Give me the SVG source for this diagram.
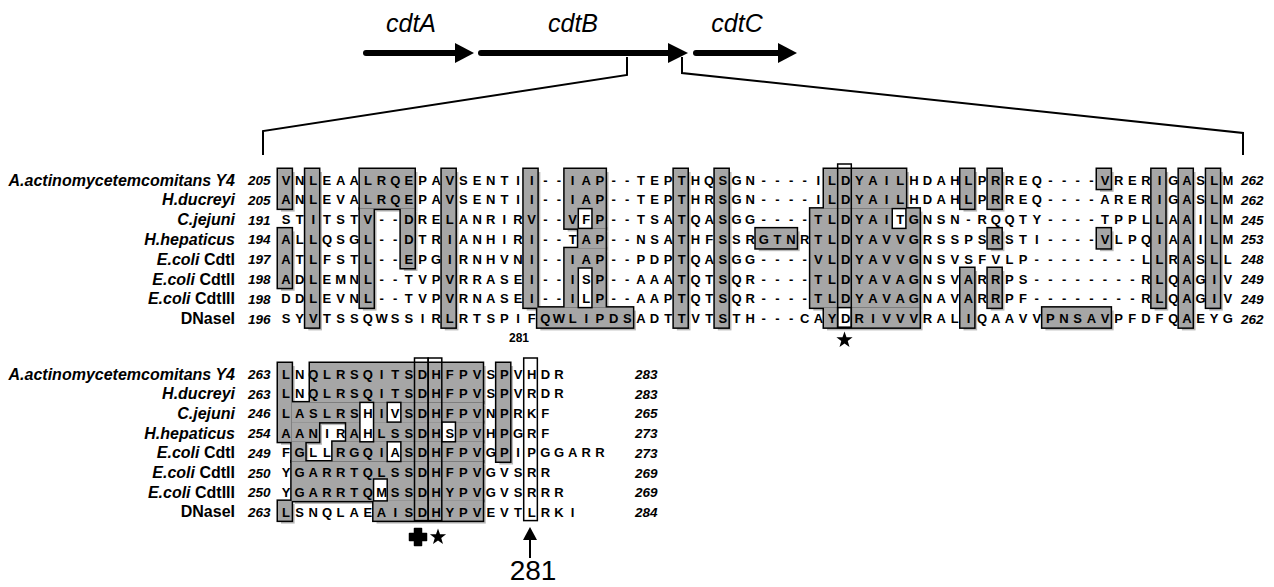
<svg xmlns="http://www.w3.org/2000/svg" width="1274" height="587" viewBox="0 0 1274 587">
<style>
.res{font-family:"Liberation Sans",Arial,sans-serif;font-weight:bold;font-size:13px;text-anchor:middle;fill:#000}
.lab{font-family:"Liberation Sans",Arial,sans-serif;font-weight:bold;font-style:italic;font-size:16px;text-anchor:end;fill:#000}
.lab .up{font-style:normal}
.num{font-family:"Liberation Sans",Arial,sans-serif;font-weight:bold;font-style:italic;font-size:13.5px;fill:#000}
.gene{font-family:"Liberation Sans",Arial,sans-serif;font-style:italic;font-size:25px;text-anchor:middle;fill:#000}
.big{font-family:"Liberation Sans",Arial,sans-serif;font-size:28px;text-anchor:middle;fill:#000}
.small{font-family:"Liberation Sans",Arial,sans-serif;font-weight:bold;font-size:12px;text-anchor:middle;fill:#000}
.shd{fill:#b9b9b9;stroke:none}
.stk{fill:none;stroke:#000;stroke-width:3}
.fil{fill:#a6a6a6;stroke:none}
.hole{fill:#fff;stroke:#000;stroke-width:1.5}
.box{fill:none;stroke:#000;stroke-width:1.5}
.wbox{fill:#fff;stroke:#000;stroke-width:1.5}
.shaft{stroke:#000;stroke-width:6;stroke-linecap:round;fill:none}
.conn{stroke:#000;stroke-width:2;fill:none}
.mark{fill:#000}
</style>
<defs>
<path id="star" d="M0,-8.5 L2,-2.75 L8.08,-2.63 L3.23,1.05 L5,6.88 L0,3.4 L-5,6.88 L-3.23,1.05 L-8.08,-2.63 L-2,-2.75 Z"/>
<path id="cross" d="M-3.5,-8.5 h7 v5 h5 v7 h-5 v5 h-7 v-5 h-5 v-7 h5 z" stroke="#000" stroke-width="1.5" stroke-linejoin="round"/>
<g id="shadeTop">
<rect x="278" y="169" width="13.65" height="39.6"/>
<rect x="278" y="228.4" width="13.65" height="59.4"/>
<rect x="305.3" y="169" width="13.65" height="158.4"/>
<rect x="359.9" y="169" width="54.6" height="39.6"/>
<rect x="359.9" y="208.6" width="13.65" height="99"/>
<rect x="400.85" y="208.6" width="13.65" height="59.4"/>
<rect x="441.8" y="169" width="13.65" height="158.4"/>
<rect x="523.7" y="169" width="13.65" height="138.6"/>
<rect x="537.35" y="307.6" width="95.55" height="19.8"/>
<rect x="564.65" y="169" width="40.95" height="59.4"/>
<rect x="578.3" y="228.4" width="27.3" height="19.8"/>
<rect x="564.65" y="248.2" width="40.95" height="59.4"/>
<rect x="673.85" y="169" width="13.65" height="158.4"/>
<rect x="714.8" y="169" width="13.65" height="158.4"/>
<rect x="755.75" y="228.4" width="40.95" height="19.8"/>
<rect x="824" y="169" width="81.9" height="39.6"/>
<rect x="810.35" y="208.6" width="109.2" height="99"/>
<rect x="824" y="307.6" width="95.55" height="19.8"/>
<rect x="960.5" y="169" width="13.65" height="39.6"/>
<rect x="987.8" y="169" width="13.65" height="39.6"/>
<rect x="987.8" y="228.4" width="13.65" height="19.8"/>
<rect x="960.5" y="268" width="13.65" height="59.4"/>
<rect x="987.8" y="268" width="13.65" height="39.6"/>
<rect x="1097" y="169" width="13.65" height="19.8"/>
<rect x="1097" y="228.4" width="13.65" height="19.8"/>
<rect x="1042.4" y="307.6" width="68.25" height="19.8"/>
<rect x="1151.6" y="169" width="13.65" height="138.6"/>
<rect x="1178.9" y="169" width="13.65" height="158.4"/>
<rect x="1206.2" y="169" width="13.65" height="138.6"/>
</g>
<g id="shadeBot">
<rect x="278" y="363" width="13.65" height="78.8"/>
<rect x="310" y="363" width="172.75" height="39.4"/>
<rect x="291.65" y="402.4" width="191.1" height="19.7"/>
<rect x="291.65" y="422.1" width="27.3" height="19.7"/>
<rect x="346.25" y="422.1" width="136.5" height="19.7"/>
<rect x="291.65" y="441.8" width="13.65" height="19.7"/>
<rect x="332.6" y="441.8" width="150.15" height="19.7"/>
<rect x="291.65" y="461.5" width="191.1" height="39.4"/>
<rect x="373.55" y="500.9" width="109.2" height="19.7"/>
<rect x="278" y="500.9" width="13.65" height="19.7"/>
<rect x="496.4" y="363" width="13.65" height="98.5"/>
</g>
</defs>

<g id="gene-map">
<g id="cdtA">
<line class="shaft" x1="366" y1="53" x2="458" y2="53"/>
<polygon class="mark" points="455,43 474,53 455,63"/>
<text class="gene" x="411" y="32">cdtA</text>
</g>
<g id="cdtB">
<line class="shaft" x1="481" y1="53" x2="671" y2="53"/>
<polygon class="mark" points="668,43 688,53 668,63"/>
<text class="gene" x="573" y="32">cdtB</text>
</g>
<g id="cdtC">
<line class="shaft" x1="696" y1="53" x2="781" y2="53"/>
<polygon class="mark" points="778,43 797,53 778,63"/>
<text class="gene" x="737" y="32">cdtC</text>
</g>
</g>

<g id="connectors">
<path class="conn" d="M627,57 L627,75 L263,131 L263,155"/>
<path class="conn" d="M682,57 L682,73 L1243,133 L1243,155"/>
<line class="conn" x1="530" y1="538" x2="530" y2="558"/>
<polygon class="mark" points="523,540 530,527 537,540"/>
</g>

<g id="alignment-top">
<use href="#shadeTop" class="shd" transform="translate(3,3)"/>
<use href="#shadeTop" class="stk"/>
<use href="#shadeTop" class="fil"/>
<rect class="hole" x="578.3" y="208.6" width="13.65" height="19.8"/>
<rect class="hole" x="578.3" y="268" width="13.65" height="39.6"/>
<rect class="hole" x="892.25" y="208.6" width="13.65" height="19.8"/>
<rect class="hole" x="837.65" y="307.6" width="13.65" height="19.8"/>
<rect class="box" x="837.65" y="164" width="13.65" height="163.4"/>
<g id="labels-top">
<text class="lab" x="235" y="185.5">A.actinomycetemcomitans Y4</text>
<text class="lab" x="235" y="205.3">H.ducreyi</text>
<text class="lab" x="235" y="225.1">C.jejuni</text>
<text class="lab" x="235" y="244.9">H.hepaticus</text>
<text class="lab" x="235" y="264.7">E.coli<tspan class="up"> CdtI</tspan></text>
<text class="lab" x="235" y="284.5">E.coli<tspan class="up"> CdtII</tspan></text>
<text class="lab" x="235" y="304.3">E.coli<tspan class="up"> CdtIII</tspan></text>
<text class="lab" x="235" y="324.1"><tspan class="up">DNaseI</tspan></text>
</g>
<g id="numbers-top">
<text class="num" x="248" y="185">205</text><text class="num" x="1241" y="185">262</text>
<text class="num" x="248" y="204.8">205</text><text class="num" x="1241" y="204.8">262</text>
<text class="num" x="248" y="224.6">191</text><text class="num" x="1241" y="224.6">245</text>
<text class="num" x="248" y="244.4">194</text><text class="num" x="1241" y="244.4">253</text>
<text class="num" x="248" y="264.2">197</text><text class="num" x="1241" y="264.2">248</text>
<text class="num" x="248" y="284">198</text><text class="num" x="1241" y="284">249</text>
<text class="num" x="248" y="303.8">198</text><text class="num" x="1241" y="303.8">249</text>
<text class="num" x="248" y="323.6">196</text><text class="num" x="1241" y="323.6">262</text>
</g>
<g id="residues-top">
<text class="res" y="184.6" x="286 299.65 313.3 326.95 340.6 354.25 367.9 381.55 395.2 408.85 422.5 436.15 449.8 463.45 477.1 490.75 504.4 518.05 531.7 545.35 559 572.65 586.3 599.95 613.6 627.25 640.9 654.55 668.2 681.85 695.5 709.15 722.8 736.45 750.1 763.75 777.4 791.05 804.7 818.35 832 845.65 859.3 872.95 886.6 900.25 913.9 927.55 941.2 954.85 968.5 982.15 995.8 1009.45 1023.1 1036.75 1050.4 1064.05 1077.7 1091.35 1105 1118.65 1132.3 1145.95 1159.6 1173.25 1186.9 1200.55 1214.2 1227.85">VNLEAALRQEPAVSENTII--IAP--TEPTHQSGN----ILDYAILHDAHLPRREQ----VRERIGASLM</text>
<text class="res" y="204.4" x="286 299.65 313.3 326.95 340.6 354.25 367.9 381.55 395.2 408.85 422.5 436.15 449.8 463.45 477.1 490.75 504.4 518.05 531.7 545.35 559 572.65 586.3 599.95 613.6 627.25 640.9 654.55 668.2 681.85 695.5 709.15 722.8 736.45 750.1 763.75 777.4 791.05 804.7 818.35 832 845.65 859.3 872.95 886.6 900.25 913.9 927.55 941.2 954.85 968.5 982.15 995.8 1009.45 1023.1 1036.75 1050.4 1064.05 1077.7 1091.35 1105 1118.65 1132.3 1145.95 1159.6 1173.25 1186.9 1200.55 1214.2 1227.85">ANLEVALRQEPAVSENTII--IAP--TEPTHRSGN----ILDYAILHDAHLPRREQ----ARERIGASLM</text>
<text class="res" y="224.2" x="286 299.65 313.3 326.95 340.6 354.25 367.9 381.55 395.2 408.85 422.5 436.15 449.8 463.45 477.1 490.75 504.4 518.05 531.7 545.35 559 572.65 586.3 599.95 613.6 627.25 640.9 654.55 668.2 681.85 695.5 709.15 722.8 736.45 750.1 763.75 777.4 791.05 804.7 818.35 832 845.65 859.3 872.95 886.6 900.25 913.9 927.55 941.2 954.85 968.5 982.15 995.8 1009.45 1023.1 1036.75 1050.4 1064.05 1077.7 1091.35 1105 1118.65 1132.3 1145.95 1159.6 1173.25 1186.9 1200.55 1214.2 1227.85">STITSTV--DRELANRIRV--VFP--TSATQASGG----TLDYAITGNSN-RQQTY----TPPLLAAILM</text>
<text class="res" y="244" x="286 299.65 313.3 326.95 340.6 354.25 367.9 381.55 395.2 408.85 422.5 436.15 449.8 463.45 477.1 490.75 504.4 518.05 531.7 545.35 559 572.65 586.3 599.95 613.6 627.25 640.9 654.55 668.2 681.85 695.5 709.15 722.8 736.45 750.1 763.75 777.4 791.05 804.7 818.35 832 845.65 859.3 872.95 886.6 900.25 913.9 927.55 941.2 954.85 968.5 982.15 995.8 1009.45 1023.1 1036.75 1050.4 1064.05 1077.7 1091.35 1105 1118.65 1132.3 1145.95 1159.6 1173.25 1186.9 1200.55 1214.2 1227.85">ALLQSGL--DTRIANHIRI--TAP--NSATHFSSRGTNRTLDYAVVGRSSPSRSTI----VLPQIAAILM</text>
<text class="res" y="263.8" x="286 299.65 313.3 326.95 340.6 354.25 367.9 381.55 395.2 408.85 422.5 436.15 449.8 463.45 477.1 490.75 504.4 518.05 531.7 545.35 559 572.65 586.3 599.95 613.6 627.25 640.9 654.55 668.2 681.85 695.5 709.15 722.8 736.45 750.1 763.75 777.4 791.05 804.7 818.35 832 845.65 859.3 872.95 886.6 900.25 913.9 927.55 941.2 954.85 968.5 982.15 995.8 1009.45 1023.1 1036.75 1050.4 1064.05 1077.7 1091.35 1105 1118.65 1132.3 1145.95 1159.6 1173.25 1186.9 1200.55 1214.2 1227.85">ATLFSTL--EPGIRNHVNI--IAP--PDPTQASGG----VLDYAVVGNSVSFVLP--------LLRASLL</text>
<text class="res" y="283.6" x="286 299.65 313.3 326.95 340.6 354.25 367.9 381.55 395.2 408.85 422.5 436.15 449.8 463.45 477.1 490.75 504.4 518.05 531.7 545.35 559 572.65 586.3 599.95 613.6 627.25 640.9 654.55 668.2 681.85 695.5 709.15 722.8 736.45 750.1 763.75 777.4 791.05 804.7 818.35 832 845.65 859.3 872.95 886.6 900.25 913.9 927.55 941.2 954.85 968.5 982.15 995.8 1009.45 1023.1 1036.75 1050.4 1064.05 1077.7 1091.35 1105 1118.65 1132.3 1145.95 1159.6 1173.25 1186.9 1200.55 1214.2 1227.85">ADLEMNL--TVPVRRASEI--ISP--AAATQTSQR----TLDYAVAGNSVARRPS--------RLQAGIV</text>
<text class="res" y="303.4" x="286 299.65 313.3 326.95 340.6 354.25 367.9 381.55 395.2 408.85 422.5 436.15 449.8 463.45 477.1 490.75 504.4 518.05 531.7 545.35 559 572.65 586.3 599.95 613.6 627.25 640.9 654.55 668.2 681.85 695.5 709.15 722.8 736.45 750.1 763.75 777.4 791.05 804.7 818.35 832 845.65 859.3 872.95 886.6 900.25 913.9 927.55 941.2 954.85 968.5 982.15 995.8 1009.45 1023.1 1036.75 1050.4 1064.05 1077.7 1091.35 1105 1118.65 1132.3 1145.95 1159.6 1173.25 1186.9 1200.55 1214.2 1227.85">DDLEVNL--TVPVRNASEI--ILP--AAPTQTSQR----TLDYAVAGNAVARRPF--------RLQAGIV</text>
<text class="res" y="323.2" x="286 299.65 313.3 326.95 340.6 354.25 367.9 381.55 395.2 408.85 422.5 436.15 449.8 463.45 477.1 490.75 504.4 518.05 531.7 545.35 559 572.65 586.3 599.95 613.6 627.25 640.9 654.55 668.2 681.85 695.5 709.15 722.8 736.45 750.1 763.75 777.4 791.05 804.7 818.35 832 845.65 859.3 872.95 886.6 900.25 913.9 927.55 941.2 954.85 968.5 982.15 995.8 1009.45 1023.1 1036.75 1050.4 1064.05 1077.7 1091.35 1105 1118.65 1132.3 1145.95 1159.6 1173.25 1186.9 1200.55 1214.2 1227.85">SYVTSSQWSSIRLRTSPIFQWLIPDSADTTVTSTH---CAYDRIVVVRALIQAAVVPNSAVPFDFQAEYG</text>
</g>
<text class="small" x="519" y="341.5">281</text>
<use href="#star" class="mark" x="844.5" y="340"/>
</g>

<g id="alignment-bottom">
<use href="#shadeBot" class="shd" transform="translate(3,3)"/>
<use href="#shadeBot" class="stk"/>
<use href="#shadeBot" class="fil"/>
<rect class="hole" x="359.9" y="402.4" width="13.65" height="39.4"/>
<rect class="hole" x="387.2" y="402.4" width="13.65" height="19.7"/>
<rect class="hole" x="441.8" y="422.1" width="13.65" height="19.7"/>
<rect class="hole" x="387.2" y="441.8" width="13.65" height="19.7"/>
<rect class="hole" x="373.55" y="479" width="13.65" height="21.9"/>
<rect class="box" x="414.5" y="358" width="13.65" height="162.6"/>
<rect class="box" x="428.15" y="358" width="13.65" height="162.6"/>
<rect class="wbox" x="523.7" y="358" width="13.65" height="162.6"/>
<g id="labels-bottom">
<text class="lab" x="235" y="379.5">A.actinomycetemcomitans Y4</text>
<text class="lab" x="235" y="399.2">H.ducreyi</text>
<text class="lab" x="235" y="418.9">C.jejuni</text>
<text class="lab" x="235" y="438.6">H.hepaticus</text>
<text class="lab" x="235" y="458.3">E.coli<tspan class="up"> CdtI</tspan></text>
<text class="lab" x="235" y="478">E.coli<tspan class="up"> CdtII</tspan></text>
<text class="lab" x="235" y="497.7">E.coli<tspan class="up"> CdtIII</tspan></text>
<text class="lab" x="235" y="517.4"><tspan class="up">DNaseI</tspan></text>
</g>
<g id="numbers-bottom">
<text class="num" x="248" y="379">263</text><text class="num" x="635" y="379">283</text>
<text class="num" x="248" y="398.7">263</text><text class="num" x="635" y="398.7">283</text>
<text class="num" x="248" y="418.4">246</text><text class="num" x="635" y="418.4">265</text>
<text class="num" x="248" y="438.1">254</text><text class="num" x="635" y="438.1">273</text>
<text class="num" x="248" y="457.8">249</text><text class="num" x="635" y="457.8">273</text>
<text class="num" x="248" y="477.5">250</text><text class="num" x="635" y="477.5">269</text>
<text class="num" x="248" y="497.2">250</text><text class="num" x="635" y="497.2">269</text>
<text class="num" x="248" y="516.9">263</text><text class="num" x="635" y="516.9">284</text>
</g>
<g id="residues-bottom">
<text class="res" y="378.6" x="286 299.65 313.3 326.95 340.6 354.25 367.9 381.55 395.2 408.85 422.5 436.15 449.8 463.45 477.1 490.75 504.4 518.05 531.7 545.35 559">LNQLRSQITSDHFPVSPVHDR</text>
<text class="res" y="398.3" x="286 299.65 313.3 326.95 340.6 354.25 367.9 381.55 395.2 408.85 422.5 436.15 449.8 463.45 477.1 490.75 504.4 518.05 531.7 545.35 559">LNQLRSQITSDHFPVSPVRDR</text>
<text class="res" y="418" x="286 299.65 313.3 326.95 340.6 354.25 367.9 381.55 395.2 408.85 422.5 436.15 449.8 463.45 477.1 490.75 504.4 518.05 531.7 545.35">LASLRSHIVSDHFPVNPRKF</text>
<text class="res" y="437.7" x="286 299.65 313.3 326.95 340.6 354.25 367.9 381.55 395.2 408.85 422.5 436.15 449.8 463.45 477.1 490.75 504.4 518.05 531.7 545.35">AANIRAHLSSDHSPVHPGRF</text>
<text class="res" y="457.4" x="286 299.65 313.3 326.95 340.6 354.25 367.9 381.55 395.2 408.85 422.5 436.15 449.8 463.45 477.1 490.75 504.4 518.05 531.7 545.35 559 572.65 586.3 599.95">FGLLRGQIASDHFPVGPIPGGARR</text>
<text class="res" y="477.1" x="286 299.65 313.3 326.95 340.6 354.25 367.9 381.55 395.2 408.85 422.5 436.15 449.8 463.45 477.1 490.75 504.4 518.05 531.7 545.35">YGARRTQLSSDHFPVGVSRR</text>
<text class="res" y="496.8" x="286 299.65 313.3 326.95 340.6 354.25 367.9 381.55 395.2 408.85 422.5 436.15 449.8 463.45 477.1 490.75 504.4 518.05 531.7 545.35 559">YGARRTQMSSDHYPVGVSRRR</text>
<text class="res" y="516.5" x="286 299.65 313.3 326.95 340.6 354.25 367.9 381.55 395.2 408.85 422.5 436.15 449.8 463.45 477.1 490.75 504.4 518.05 531.7 545.35 559 572.65">LSNQLAEAISDHYPVEVTLRKI</text>
</g>
<use href="#cross" class="mark" x="418" y="537"/>
<use href="#star" class="mark" x="438" y="537"/>
<text class="big" x="533" y="580">281</text>
</g>
</svg>
